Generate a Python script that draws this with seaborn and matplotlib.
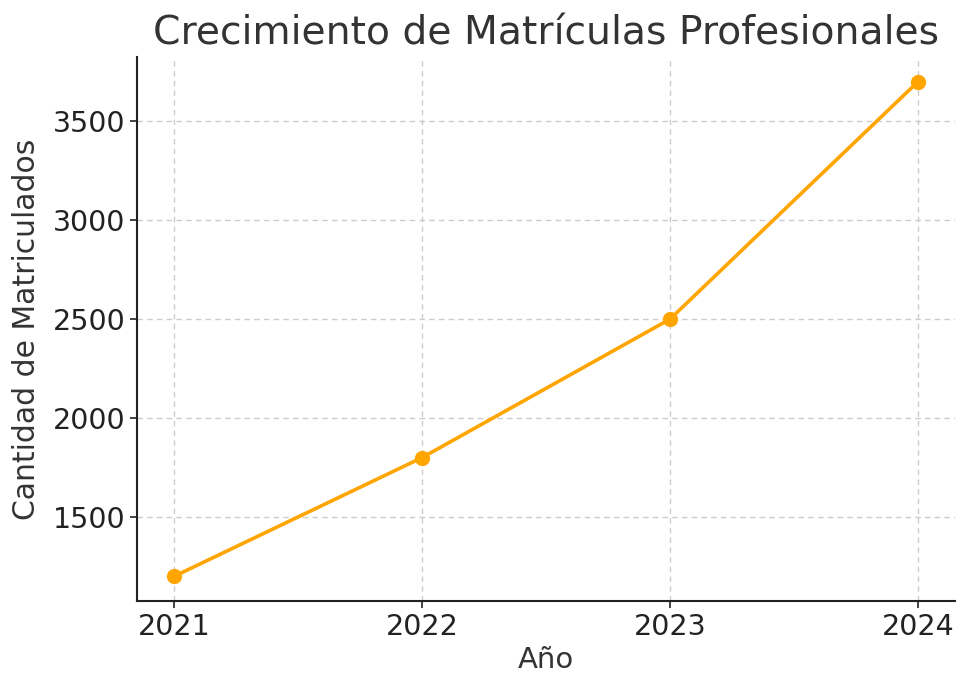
import seaborn as sns
import matplotlib.pyplot as plt
import pandas as pd

years = [2021, 2022, 2023, 2024]
matriculados = [1200, 1800, 2500, 3700]

df = pd.DataFrame({"Año": years, "Cantidad de Matriculados": matriculados})

sns.set_style("white")
plt.rcParams['font.family'] = ['DejaVu Sans']

fig = plt.figure(figsize=(9.58, 6.75), dpi=100)
ax = fig.add_axes([0.143, 0.1096, 0.854, 0.806])

sns.lineplot(data=df, x="Año", y="Cantidad de Matriculados", marker="o",
             color="#FFA500", linewidth=2.6, markersize=11, markeredgewidth=0, ax=ax)

ax.set_xticks(years)
ax.set_xticklabels([str(y) for y in years])
ax.grid(True, linestyle=(0, (4, 3)), color="#cccccc", linewidth=1)
ax.set_axisbelow(True)
sns.despine(ax=ax)
for s in ["left", "bottom"]:
    ax.spines[s].set_color("#222222")
    ax.spines[s].set_linewidth(1.5)
ax.tick_params(axis="both", labelsize=20.5, length=5, width=1.2, colors="#222222", direction="out",
               bottom=True, left=True)
ax.set_xlabel("Año", fontsize=21, color="#333333")
ax.set_ylabel("Cantidad de Matriculados", fontsize=21.5, color="#333333", labelpad=8)
ax.set_title("Crecimiento de Matrículas Profesionales", fontsize=28.3, color="#333333", pad=9)

fig.savefig("out.png", dpi=100)
